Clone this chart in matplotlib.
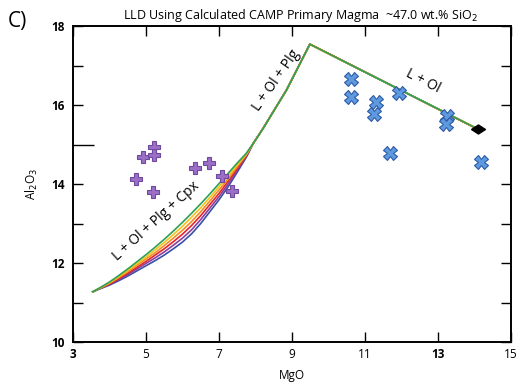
import matplotlib
matplotlib.use("Agg")
import matplotlib.pyplot as plt
from matplotlib.path import Path

plt.rcParams['font.family'] = ['Open Sans', 'DejaVu Sans']

# melt samples (purple crosses)
plus_mgo = [4.73, 4.93, 5.22, 5.22, 5.20, 6.34, 6.73, 7.09, 7.35]
plus_al = [14.12, 14.69, 14.93, 14.73, 13.79, 14.40, 14.52, 14.19, 13.82]

# olivine-bearing samples (blue x)
x_mgo = [10.63, 10.63, 11.30, 11.25, 11.93, 11.68, 13.24, 13.21, 14.18]
x_al = [16.67, 16.21, 16.08, 15.76, 16.30, 14.79, 15.71, 15.52, 14.56]

# primary magma
prim_mgo = [14.09]
prim_al = [15.39]

# common part of the LLD: primary -> Plg in -> Cpx in
upper_mgo = [14.09, 9.49, 8.85, 8.50, 8.21, 7.94]
upper_al = [15.39, 17.54, 16.38, 15.85, 15.41, 15.03]

# L + Ol + Plg + Cpx part, one curve per model run
lower_mgo = [7.94, 7.75, 7.5, 7.25, 7.0, 6.75, 6.5, 6.25, 6.0, 5.75, 5.5,
             5.25, 5.0, 4.75, 4.5, 4.25, 4.0, 3.75, 3.54]
al_green = [15.03, 14.78, 14.53, 14.27, 14.01, 13.75, 13.50, 13.26, 13.03, 12.81, 12.60,
            12.40, 12.21, 12.03, 11.85, 11.68, 11.52, 11.38, 11.27]
al_gold = [15.03, 14.76, 14.48, 14.20, 13.93, 13.66, 13.40, 13.16, 12.93, 12.72, 12.52,
           12.33, 12.15, 11.98, 11.81, 11.65, 11.50, 11.37, 11.27]
al_orange = [15.03, 14.74, 14.44, 14.13, 13.85, 13.57, 13.30, 13.05, 12.83, 12.63, 12.44,
             12.26, 12.10, 11.94, 11.78, 11.63, 11.49, 11.37, 11.27]
al_red = [15.03, 14.72, 14.39, 14.07, 13.76, 13.48, 13.20, 12.95, 12.73, 12.54, 12.36,
          12.20, 12.04, 11.89, 11.74, 11.60, 11.47, 11.36, 11.27]
al_purple = [15.03, 14.70, 14.35, 14.00, 13.68, 13.39, 13.10, 12.84, 12.63, 12.45, 12.28,
             12.13, 11.99, 11.85, 11.71, 11.58, 11.46, 11.36, 11.27]
al_blue = [15.03, 14.68, 14.30, 13.93, 13.60, 13.30, 13.00, 12.74, 12.53, 12.36, 12.20,
           12.06, 11.93, 11.80, 11.67, 11.55, 11.44, 11.35, 11.27]

fig = plt.figure(figsize=(5.21, 3.91), dpi=100)
ax = fig.add_axes([0.1401, 0.1253, 0.8407, 0.8082])

runs = [(al_blue, '#3a4fa6'), (al_purple, '#8a3f9e'), (al_red, '#e2262d'),
        (al_orange, '#f58a25'), (al_gold, '#f3c21c'), (al_green, '#2ea055')]
for vals, col in runs:
    ax.plot(upper_mgo + lower_mgo[1:], upper_al + vals[1:], color=col, lw=1.2,
            zorder=2, solid_joinstyle='round')

ax.plot(plus_mgo, plus_al, ls='none', marker='P', ms=9, mfc='#9b6fc6', mec='#6e4a9e', mew=0.8, zorder=3)
ax.plot(x_mgo, x_al, ls='none', marker='X', ms=9.5, mfc='#5d9ae0', mec='#2e5aa5', mew=0.8, zorder=3)
wide_diamond = Path([(-1, 0), (0, 0.65), (1, 0), (0, -0.65), (-1, 0)])
ax.plot(prim_mgo, prim_al, ls='none', marker=wide_diamond, ms=10, color='black', zorder=4)

ax.text(5.29, 13.05, 'L + Ol + Plg + Cpx', rotation=42, ha='center', va='center', fontsize=10)
ax.text(8.56, 16.63, 'L + Ol + Plg', rotation=55, ha='center', va='center', fontsize=10)
ax.text(12.59, 16.60, 'L + Ol', rotation=-27, ha='center', va='center', fontsize=10)

ax.set_xlim(3, 15)
ax.set_ylim(10, 18)
ax.set_xticks([3, 5, 7, 9, 11, 13, 15])
ax.set_yticks(range(10, 19))
ax.set_yticklabels(['10', '', '12', '', '14', '', '16', '', '18'], fontweight='bold')
ax.tick_params(direction='in', top=True, right=True, length=7, width=1, labelsize=8.5, pad=4)
ax.tick_params(axis='y', pad=6)
for lab in ax.get_xticklabels():
    if lab.get_text() in ('3', '13'):
        lab.set_fontweight('bold')
ax.yaxis.get_major_ticks()[5].tick1line.set_markersize(15)
for s in ax.spines.values():
    s.set_linewidth(1.4)

ax.set_xlabel('MgO', fontsize=8.5, labelpad=6)
ax.set_ylabel('Al$_2$O$_3$', fontsize=8.5, labelpad=8)
ax.set_title('LLD Using Calculated CAMP Primary Magma  ~47.0 wt.% SiO$_2$', fontsize=9, pad=5, x=0.52)
fig.text(0.015, 0.945, 'C)', fontsize=15, ha='left', va='center')

fig.savefig('out.png', dpi=100)
